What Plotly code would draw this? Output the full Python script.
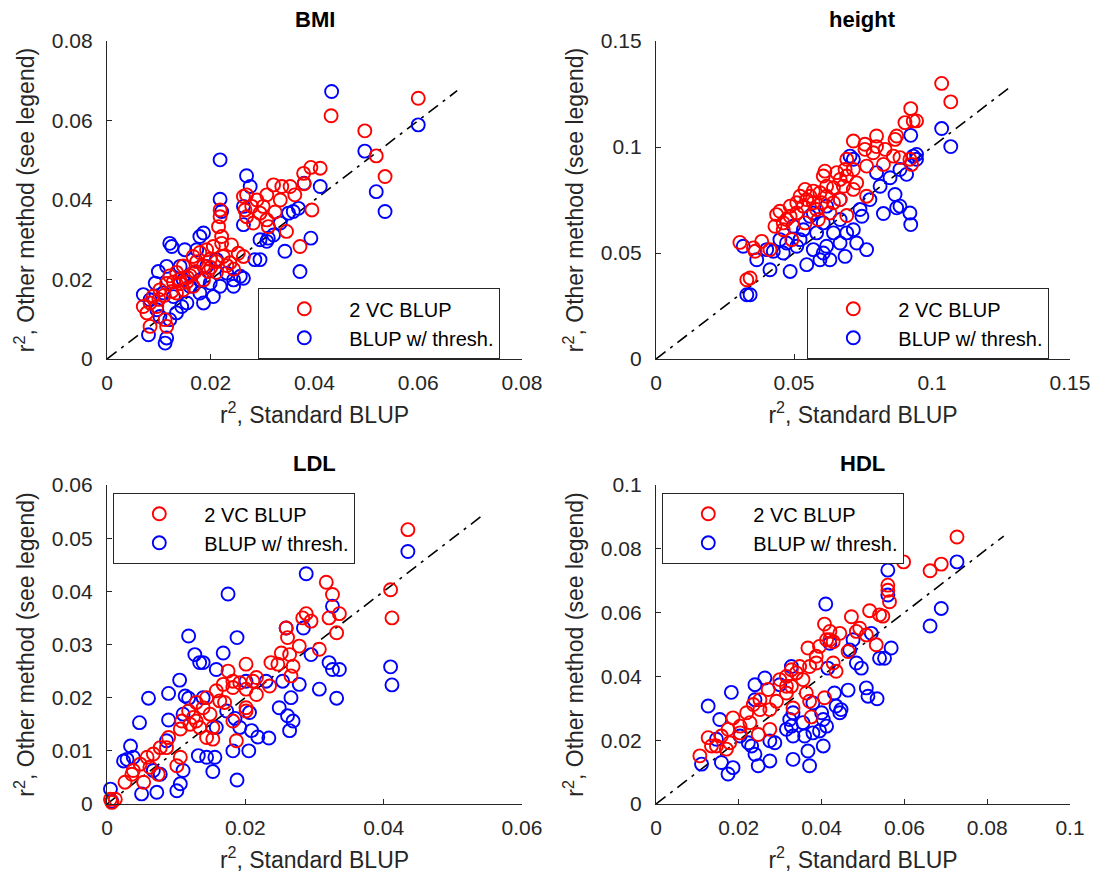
import plotly.graph_objects as go

# ---------------- data (r^2 values) ----------------
titles = ["BMI", "height", "LDL", "HDL"]
series_names = ["2 VC BLUP", "BLUP w/ thresh."]

bmi_vc_x = [0.0600,0.0432,0.0497,0.0519,0.0536,0.0411,0.0393,0.0379,0.0380,0.0395,
            0.0372,0.0346,0.0362,0.0353,0.0337,0.0321,0.0308,0.0289,0.0295,0.0308,
            0.0282,0.0301,0.0269,0.0266,0.0269,0.0279,0.0263,0.0311,0.0334,0.0324,
            0.0218,0.0218,0.0215,0.0221,0.0221,0.0240,0.0253,0.0263,0.0205,0.0192,
            0.0179,0.0166,0.0199,0.0186,0.0211,0.0224,0.0173,0.0237,0.0147,0.0134,
            0.0121,0.0128,0.0141,0.0154,0.0115,0.0102,0.0089,0.0083,0.0096,0.0070,
            0.0077,0.0112,0.0115,0.0083,0.0134,0.0147,0.0166,0.0186,0.0211,0.0231,
            0.0244,0.0160,0.0170,0.0140,0.0100,0.0110,0.0125,0.0195,0.0200,0.0155]
bmi_vc_y = [0.0656,0.0612,0.0574,0.0511,0.0459,0.0480,0.0482,0.0467,0.0441,0.0375,
            0.0283,0.0321,0.0413,0.0434,0.0434,0.0438,0.0413,0.0400,0.0367,0.0350,
            0.0342,0.0384,0.0413,0.0375,0.0358,0.0384,0.0409,0.0333,0.0400,0.0370,
            0.0375,0.0358,0.0333,0.0308,0.0291,0.0287,0.0266,0.0258,0.0283,0.0275,
            0.0268,0.0258,0.0251,0.0234,0.0245,0.0258,0.0245,0.0242,0.0234,0.0218,
            0.0209,0.0194,0.0190,0.0194,0.0190,0.0174,0.0158,0.0141,0.0132,0.0132,
            0.0116,0.0099,0.0082,0.0082,0.0166,0.0174,0.0183,0.0199,0.0218,0.0235,
            0.0226,0.0210,0.0220,0.0200,0.0150,0.0160,0.0170,0.0220,0.0230,0.0205]
bmi_th_x = [0.0433,0.0600,0.0497,0.0519,0.0536,0.0372,0.0393,0.0411,0.0380,0.0359,
            0.0343,0.0311,0.0295,0.0285,0.0218,0.0269,0.0276,0.0218,0.0263,0.0263,
            0.0221,0.0186,0.0121,0.0125,0.0150,0.0099,0.0093,0.0070,0.0083,0.0115,
            0.0112,0.0080,0.0144,0.0154,0.0179,0.0186,0.0205,0.0218,0.0244,0.0263,
            0.0244,0.0134,0.0121,0.0295,0.0308,0.0321,0.0334,0.0350,0.0369,0.0211,
            0.0192,0.0166,0.0147,0.0109,0.0096,0.0160,0.0231,0.0179,0.0141,0.0115,
            0.0128,0.0102,0.0199,0.0173,0.0257,0.0179]
bmi_th_y = [0.0673,0.0589,0.0523,0.0421,0.0371,0.0220,0.0304,0.0434,0.0442,0.0371,
            0.0271,0.0304,0.0250,0.0250,0.0501,0.0461,0.0434,0.0402,0.0384,0.0338,
            0.0371,0.0317,0.0291,0.0283,0.0275,0.0220,0.0191,0.0162,0.0149,0.0053,
            0.0040,0.0061,0.0132,0.0141,0.0166,0.0141,0.0157,0.0183,0.0199,0.0203,
            0.0183,0.0116,0.0099,0.0300,0.0296,0.0312,0.0342,0.0367,0.0379,0.0250,
            0.0233,0.0216,0.0199,0.0166,0.0124,0.0183,0.0216,0.0199,0.0233,0.0233,
            0.0157,0.0107,0.0191,0.0275,0.0208,0.0308]

height_vc_x = [0.1035,0.1068,0.0923,0.0932,0.0944,0.0902,0.0872,0.0866,0.0799,0.0715,
               0.0757,0.0799,0.0787,0.0757,0.0884,0.0920,0.0926,0.0824,0.0763,0.0691,
               0.0685,0.0612,0.0606,0.0691,0.0715,0.0727,0.0679,0.0643,0.0763,0.0715,
               0.0540,0.0570,0.0594,0.0618,0.0522,0.0546,0.0510,0.0570,0.0600,0.0643,
               0.0691,0.0486,0.0449,0.0437,0.0473,0.0486,0.0510,0.0540,0.0588,0.0431,
               0.0461,0.0492,0.0413,0.0383,0.0353,0.0359,0.0304,0.0341,0.0329,0.0667,
               0.0655,0.0618,0.0558,0.0534,0.0582,0.0667,0.0630,0.0461,0.0860,0.0830]
height_vc_y = [0.1300,0.1213,0.1181,0.1123,0.1123,0.1115,0.1052,0.1036,0.1052,0.1028,
               0.1013,0.1002,0.0973,0.0989,0.0950,0.0942,0.0918,0.0918,0.0910,0.0942,
               0.0894,0.0886,0.0863,0.0863,0.0894,0.0831,0.0815,0.0808,0.0768,0.0800,
               0.0800,0.0792,0.0784,0.0768,0.0768,0.0752,0.0737,0.0737,0.0737,0.0737,
               0.0677,0.0721,0.0697,0.0681,0.0658,0.0673,0.0689,0.0642,0.0658,0.0626,
               0.0610,0.0563,0.0516,0.0555,0.0524,0.0508,0.0550,0.0382,0.0374,0.0847,
               0.0879,0.0815,0.0768,0.0721,0.0705,0.0752,0.0689,0.0642,0.0957,0.0989]
height_th_x = [0.1035,0.1068,0.0923,0.0944,0.0932,0.0908,0.0866,0.0884,0.0920,0.0923,
               0.0824,0.0872,0.0763,0.0715,0.0685,0.0630,0.0594,0.0546,0.0486,0.0413,
               0.0341,0.0329,0.0365,0.0425,0.0461,0.0522,0.0570,0.0618,0.0667,0.0727,
               0.0691,0.0643,0.0582,0.0534,0.0606,0.0667,0.0739,0.0775,0.0812,0.0848,
               0.0799,0.0884,0.0715,0.0703,0.0746,0.0558,0.0498,0.0449,0.0401,0.0606,
               0.0510,0.0473,0.0667,0.0618,0.0570,0.0944,0.0316]
height_th_y = [0.1087,0.1002,0.1055,0.0965,0.0957,0.0871,0.0776,0.0721,0.0689,0.0634,
               0.0686,0.0713,0.0516,0.0610,0.0484,0.0468,0.0468,0.0445,0.0413,0.0421,
               0.0303,0.0303,0.0468,0.0508,0.0500,0.0563,0.0516,0.0532,0.0547,0.0547,
               0.0595,0.0595,0.0595,0.0610,0.0642,0.0658,0.0705,0.0752,0.0815,0.0855,
               0.0879,0.0894,0.0942,0.0957,0.0673,0.0673,0.0626,0.0563,0.0516,0.0500,
               0.0532,0.0547,0.0752,0.0721,0.0689,0.0942,0.0532]

ldl_vc_x = [0.0435,0.0410,0.0412,0.0317,0.0326,0.0336,0.0321,0.0332,0.0288,0.0295,
            0.0283,0.0259,0.0261,0.0307,0.0278,0.0252,0.0264,0.0237,0.0247,0.0269,
            0.0266,0.0201,0.0175,0.0216,0.0235,0.0168,0.0182,0.0192,0.0201,0.0216,
            0.0158,0.0144,0.0129,0.0139,0.0170,0.0201,0.0201,0.0118,0.0108,0.0125,
            0.0149,0.0134,0.0106,0.0153,0.0182,0.0144,0.0153,0.0187,0.0089,0.0077,
            0.0067,0.0106,0.0101,0.0058,0.0048,0.0038,0.0036,0.0026,0.0053,0.0074,
            0.0005,0.0012,0.0007,0.0182,0.0211,0.0120,0.0086,0.0062,0.0163,0.0129]
ldl_vc_y = [0.0516,0.0403,0.0350,0.0417,0.0394,0.0358,0.0350,0.0322,0.0358,0.0344,
            0.0350,0.0331,0.0313,0.0291,0.0297,0.0284,0.0281,0.0266,0.0263,0.0259,
            0.0241,0.0263,0.0250,0.0238,0.0222,0.0225,0.0219,0.0228,0.0216,0.0206,
            0.0213,0.0200,0.0191,0.0181,0.0191,0.0181,0.0175,0.0175,0.0156,0.0163,
            0.0169,0.0144,0.0141,0.0144,0.0156,0.0125,0.0122,0.0119,0.0125,0.0106,
            0.0094,0.0088,0.0072,0.0088,0.0075,0.0063,0.0056,0.0041,0.0041,0.0056,
            0.0009,0.0009,0.0003,0.0231,0.0231,0.0150,0.0106,0.0069,0.0194,0.0156]
ldl_th_x = [0.0435,0.0288,0.0175,0.0326,0.0259,0.0284,0.0118,0.0188,0.0127,0.0134,
            0.0139,0.0168,0.0158,0.0295,0.0321,0.0326,0.0336,0.0410,0.0412,0.0105,
            0.0089,0.0060,0.0113,0.0118,0.0254,0.0278,0.0307,0.0332,0.0266,0.0249,
            0.0089,0.0047,0.0261,0.0269,0.0264,0.0206,0.0185,0.0209,0.0218,0.0234,
            0.0034,0.0029,0.0038,0.0132,0.0144,0.0156,0.0182,0.0205,0.0153,0.0188,
            0.0106,0.0101,0.0072,0.0050,0.0005,0.0007,0.0110,0.0077,0.0086,0.0158,
            0.0110,0.0173,0.0192,0.0139,0.0201,0.0067,0.0024,0.0230]
ldl_th_y = [0.0475,0.0433,0.0395,0.0372,0.0331,0.0331,0.0316,0.0313,0.0281,0.0266,
            0.0266,0.0284,0.0253,0.0281,0.0266,0.0253,0.0253,0.0258,0.0224,0.0233,
            0.0208,0.0199,0.0203,0.0199,0.0231,0.0225,0.0216,0.0199,0.0200,0.0181,
            0.0158,0.0153,0.0166,0.0156,0.0138,0.0172,0.0161,0.0138,0.0126,0.0124,
            0.0109,0.0084,0.0088,0.0091,0.0088,0.0088,0.0100,0.0100,0.0061,0.0045,
            0.0038,0.0025,0.0022,0.0019,0.0028,0.0005,0.0063,0.0056,0.0119,0.0144,
            0.0169,0.0175,0.0144,0.0200,0.0231,0.0063,0.0081,0.0231]

hdl_vc_x = [0.0727,0.0689,0.0662,0.0598,0.0560,0.0560,0.0564,0.0516,0.0540,0.0548,
            0.0472,0.0492,0.0484,0.0508,0.0532,0.0407,0.0420,0.0420,0.0428,0.0367,
            0.0395,0.0464,0.0428,0.0387,0.0371,0.0435,0.0327,0.0315,0.0339,0.0355,
            0.0327,0.0363,0.0407,0.0315,0.0371,0.0331,0.0375,0.0291,0.0271,0.0251,
            0.0235,0.0219,0.0251,0.0275,0.0227,0.0275,0.0247,0.0186,0.0203,0.0174,
            0.0158,0.0126,0.0146,0.0170,0.0134,0.0106,0.0178,0.0299,0.0444,0.0412,
            0.0315,0.0347,0.0387,0.0203]
hdl_vc_y = [0.0837,0.0752,0.0731,0.0759,0.0686,0.0670,0.0634,0.0606,0.0593,0.0589,
            0.0587,0.0551,0.0541,0.0530,0.0499,0.0564,0.0541,0.0515,0.0509,0.0489,
            0.0494,0.0478,0.0442,0.0442,0.0431,0.0416,0.0421,0.0400,0.0411,0.0390,
            0.0369,0.0348,0.0333,0.0348,0.0322,0.0301,0.0273,0.0322,0.0359,0.0327,
            0.0312,0.0286,0.0296,0.0296,0.0255,0.0234,0.0218,0.0270,0.0244,0.0234,
            0.0213,0.0208,0.0182,0.0172,0.0182,0.0151,0.0192,0.0390,0.0535,0.0515,
            0.0369,0.0431,0.0463,0.0223]
hdl_th_x = [0.0727,0.0560,0.0560,0.0689,0.0662,0.0410,0.0520,0.0568,0.0540,0.0552,
            0.0468,0.0484,0.0496,0.0420,0.0508,0.0512,0.0534,0.0464,0.0431,0.0435,
            0.0447,0.0400,0.0412,0.0395,0.0404,0.0371,0.0367,0.0359,0.0331,0.0331,
            0.0327,0.0323,0.0275,0.0287,0.0275,0.0247,0.0239,0.0223,0.0186,0.0174,
            0.0158,0.0110,0.0126,0.0182,0.0154,0.0239,0.0263,0.0239,0.0327,0.0299,
            0.0415,0.0203,0.0231,0.0331,0.0444,0.0379,0.0355,0.0315,0.0379,0.0146,
            0.0404,0.0476]
hdl_th_y = [0.0759,0.0733,0.0655,0.0613,0.0558,0.0627,0.0535,0.0489,0.0457,0.0457,
            0.0483,0.0442,0.0426,0.0504,0.0364,0.0338,0.0330,0.0357,0.0348,0.0307,
            0.0296,0.0286,0.0244,0.0229,0.0182,0.0120,0.0166,0.0213,0.0213,0.0286,
            0.0244,0.0265,0.0198,0.0192,0.0135,0.0120,0.0156,0.0192,0.0114,0.0094,
            0.0130,0.0125,0.0307,0.0350,0.0265,0.0374,0.0395,0.0327,0.0431,0.0374,
            0.0426,0.0213,0.0182,0.0140,0.0286,0.0317,0.0255,0.0234,0.0223,0.0203,
            0.0265,0.0515]

# axis limits, ticks and identity-line extent per panel
axis_max = [0.08, 0.15, 0.06, 0.1]
x_ticks = [[0, 0.02, 0.04, 0.06, 0.08], [0, 0.05, 0.1, 0.15],
           [0, 0.02, 0.04, 0.06], [0, 0.02, 0.04, 0.06, 0.08, 0.1]]
x_tick_text = [["0", "0.02", "0.04", "0.06", "0.08"], ["0", "0.05", "0.1", "0.15"],
               ["0", "0.02", "0.04", "0.06"], ["0", "0.02", "0.04", "0.06", "0.08", "0.1"]]
y_ticks = [[0, 0.02, 0.04, 0.06, 0.08], [0, 0.05, 0.1, 0.15],
           [0, 0.01, 0.02, 0.03, 0.04, 0.05, 0.06], [0, 0.02, 0.04, 0.06, 0.08, 0.1]]
y_tick_text = [["0", "0.02", "0.04", "0.06", "0.08"], ["0", "0.05", "0.1", "0.15"],
               ["0", "0.01", "0.02", "0.03", "0.04", "0.05", "0.06"],
               ["0", "0.02", "0.04", "0.06", "0.08", "0.1"]]
diag_end = [0.0675, 0.128, 0.054, 0.084]

vc_x = [bmi_vc_x, height_vc_x, ldl_vc_x, hdl_vc_x]
vc_y = [bmi_vc_y, height_vc_y, ldl_vc_y, hdl_vc_y]
th_x = [bmi_th_x, height_th_x, ldl_th_x, hdl_th_x]
th_y = [bmi_th_y, height_th_y, ldl_th_y, hdl_th_y]

# ---------------- layout geometry ----------------
W, H = 1093, 884
FONT = "Liberation Sans, Arial, Helvetica, sans-serif"
AX = "#262626"
x_dom = [[107 / W, 522 / W], [656 / W, 1070 / W], [107 / W, 522 / W], [656 / W, 1070 / W]]
y_dom = [[1 - 359 / H, 1 - 41 / H], [1 - 359 / H, 1 - 41 / H],
         [1 - 804 / H, 1 - 485 / H], [1 - 804 / H, 1 - 485 / H]]
legend_pos = [(258 / W, 1 - 288 / H), (807 / W, 1 - 288 / H),
              (113 / W, 1 - 493 / H), (662 / W, 1 - 493 / H)]

fig = go.Figure()
layout = dict(
    width=W, height=H, paper_bgcolor="white", plot_bgcolor="white",
    margin=dict(l=0, r=0, t=0, b=0, autoexpand=False),
    font=dict(family=FONT, color=AX),
    annotations=[],
)

for i in range(4):
    sx = "" if i == 0 else str(i + 1)
    xa, ya = "x" + sx, "y" + sx
    leg = "legend" + sx
    # identity line
    fig.add_trace(go.Scatter(
        x=[0, diag_end[i]], y=[0, diag_end[i]], mode="lines",
        line=dict(color="black", width=1.6, dash="12px,6px,3px,6px"),
        xaxis=xa, yaxis=ya, showlegend=False, hoverinfo="skip"))
    fig.add_trace(go.Scatter(
        x=th_x[i], y=th_y[i], mode="markers", name=series_names[1],
        marker=dict(symbol="circle-open", size=13, color="#0000ff",
                    line=dict(width=1.9, color="#0000ff")),
        xaxis=xa, yaxis=ya, legend=leg, legendrank=2, cliponaxis=False))
    fig.add_trace(go.Scatter(
        x=vc_x[i], y=vc_y[i], mode="markers", name=series_names[0],
        marker=dict(symbol="circle-open", size=13, color="#ff0000",
                    line=dict(width=1.9, color="#ff0000")),
        xaxis=xa, yaxis=ya, legend=leg, legendrank=1, cliponaxis=False))

    common = dict(showline=True, linecolor=AX, linewidth=1.3, mirror=False,
                  ticks="inside", ticklen=5, tickwidth=1.3, tickcolor=AX,
                  showgrid=False, zeroline=False, automargin=False,
                  tickfont=dict(size=21, color=AX, family=FONT))
    layout["xaxis" + sx] = dict(
        common, domain=x_dom[i], range=[0, axis_max[i]], anchor=ya,
        tickvals=x_ticks[i], ticktext=x_tick_text[i], ticklabelstandoff=5,
        title=dict(text="r<sup>2</sup>, Standard BLUP",
                   font=dict(size=23, color=AX, family=FONT), standoff=13))
    layout["yaxis" + sx] = dict(
        common, domain=y_dom[i], range=[0, axis_max[i]], anchor=xa,
        tickvals=y_ticks[i], ticktext=y_tick_text[i], ticklabelstandoff=9,
        title=dict(text="r<sup>2</sup>, Other method (see legend)",
                   font=dict(size=23, color=AX, family=FONT), standoff=10))
    layout[leg] = dict(
        x=legend_pos[i][0], y=legend_pos[i][1], xanchor="left", yanchor="top",
        bgcolor="white", bordercolor=AX, borderwidth=1.3,
        font=dict(size=20, color="black", family=FONT),
        itemwidth=80, tracegroupgap=0, traceorder="normal",
        entrywidth=250, entrywidthmode="pixels")
    layout["annotations"].append(dict(
        text="<b>" + titles[i] + "</b>", xref="paper", yref="paper",
        x=(x_dom[i][0] + x_dom[i][1]) / 2, y=y_dom[i][1],
        xanchor="center", yanchor="bottom", yshift=7, showarrow=False,
        font=dict(size=22, color="black", family=FONT)))

fig.update_layout(**layout)
# remove the default 8px page margin so the figure fills the window exactly
fig.write_html("out.html",
               config={"displayModeBar": False},
               post_script="document.body.style.margin='0';"
                           "document.body.style.overflow='hidden';")
